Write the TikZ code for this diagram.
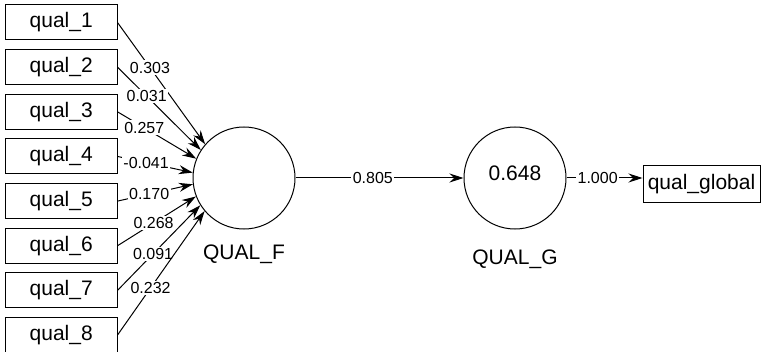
\documentclass[tikz,border=0pt]{standalone}
\usepackage{fontspec}
\setmainfont{Liberation Sans}
\usepackage{tikz}
\usetikzlibrary{positioning}
\usetikzlibrary{arrows.meta}

\begin{document}
\begin{tikzpicture}[
	x=0.5pt, y=-0.5pt,
	m/.style = {rectangle, draw, line width=0.5pt, minimum width=55.75pt, minimum height=17.5pt, inner sep=1pt, font=\fontsize{10.5}{12}\selectfont},
	lv/.style = {circle, draw, line width=0.5pt, minimum size=51pt, inner sep=0pt, font=\fontsize{10.5}{12}\selectfont},
	t/.style = {font=\fontsize{10.5}{12}\selectfont},
	w/.style = {fill=white, inner sep=0.8pt, font=\fontsize{8}{9}\selectfont},
	r/.style = {-{Stealth[length=7pt, width=4.5pt]}, line width=0.5pt}
	]
	\useasboundingbox (0, 0) rectangle (764, 352);
	
	%Nodes
	\node[m]	(q1)	at	(61.25, 22.5)		{qual\_1};
	\node[m]	(q2)	at	(61.25, 67.15)		{qual\_2};
	\node[m]	(q3)	at	(61.25, 111.8)		{qual\_3};
	\node[m]	(q4)	at	(61.25, 156.45)		{qual\_4};
	\node[m]	(q5)	at	(61.25, 201.1)		{qual\_5};
	\node[m]	(q6)	at	(61.25, 245.75)		{qual\_6};
	\node[m]	(q7)	at	(61.25, 290.4)		{qual\_7};
	\node[m]	(q8)	at	(61.25, 335.05)		{qual\_8};
	
	\node[lv, label={[t, label distance=4pt]below:QUAL\_F}]	(QF)	at	(244, 178)	{};
	\node[lv, text depth=5pt, label={[t, label distance=6.5pt]below:QUAL\_G}]	(QG)	at	(515, 178)	{0.648};
	\node[m, minimum width=58.5pt, minimum height=18pt]	(qgl)	at	(701.5, 184)	{qual\_global};
	
	%Lines
	\draw[r]	(q1.east)	to	node[w, pos=0.37]	{0.303}		(QF.139);
	\draw[r]	(q2.east)	to	node[w, pos=0.35]	{0.031}		(QF.147);
	\draw[r]	(q3.east)	to	node[w, pos=0.34]	{0.257}		(QF.158);
	\draw[r]	(q4.east)	to	node[w, pos=0.38]	{-0.041}	(QF.174);
	\draw[r]	(q5.east)	to	node[w, pos=0.42]	{0.170}		(QF.187);
	\draw[r]	(q6.east)	to	node[w, pos=0.46]	{0.268}		(QF.201);
	\draw[r]	(q7.east)	to	node[w, pos=0.43]	{0.091}		(QF.212);
	\draw[r]	(q8.east)	to	node[w, pos=0.38]	{0.232}		(QF.220);
	
	\draw[r]	(QF.east)	to	node[w, pos=0.46]	{0.805}		(QG.west);
	\draw[r]	(QG.east)	to	node[w, pos=0.41]	{1.000}		(QG.east -| qgl.west);
	
\end{tikzpicture}
\end{document}
